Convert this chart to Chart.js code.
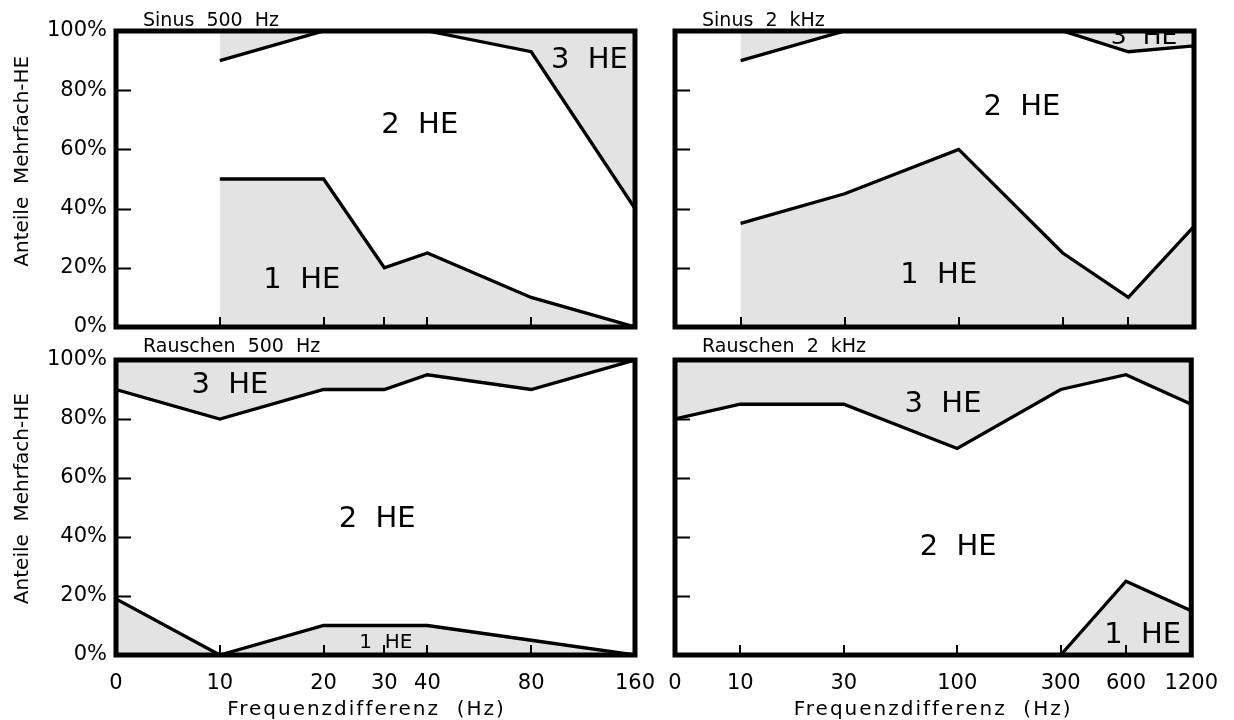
<!DOCTYPE html>
<html>
<head>
<meta charset="utf-8">
<script src="https://cdn.jsdelivr.net/npm/chart.js@4"></script>
<style>
  html, body { margin: 0; padding: 0; background: #fff; }
  #wrap { position: relative; width: 1234px; height: 720px; }
  #wrap canvas { position: absolute; left: 0; top: 0; }
</style>
</head>
<body>
<div id="wrap">
  <canvas id="sinus500" width="1234" height="720"></canvas>
  <canvas id="sinus2k" width="1234" height="720"></canvas>
  <canvas id="noise500" width="1234" height="720"></canvas>
  <canvas id="noise2k" width="1234" height="720"></canvas>
</div>
<script>
// frequency differences (Hz) on the x axis
const freq500 = [0, 10, 20, 30, 40, 80, 160];
const freq2k = [0, 10, 30, 100, 300, 600, 1200];
const yTicks = [0, 20, 40, 60, 80, 100];

// share of 1 HE, and 1 HE + 2 HE together (%); the rest up to 100 is 3 HE
const sinus500One = [null, 50, 50, 20, 25, 10, 0];
const sinus500OneTwo = [null, 90, 100, 100, 100, 93, 40];
const sinus2kOne = [null, 35, 45, 60, 25, 10, 34];
const sinus2kOneTwo = [null, 90, 100, 100, 100, 93, 95];
const noise500One = [19, 0, 10, 10, 10, 5, 0];
const noise500OneTwo = [90, 80, 90, 90, 95, 90, 100];
const noise2kOne = [0, 0, 0, 0, 0, 25, 15];
const noise2kOneTwo = [80, 85, 85, 70, 90, 95, 85];

const W = 1234, H = 720;
const FONT = '"DejaVu Sans", sans-serif';
const GRAY = '#e3e3e3';
// the "0" column sits one octave below 10 Hz on the log axis
const ZERO_AT = 5;
const xPos = f => (f === 0 ? ZERO_AT : f);

const panels = [
  {
    id: 'sinus500', title: 'Sinus  500  Hz', freqs: freq500, one: sinus500One, oneTwo: sinus500OneTwo,
    area: { left: 116, top: 31, right: 635, bottom: 327 }, titleGap: 5,
    yLabels: true, xLabels: false, yTitleAt: 56,
    notes: [
      { text: '3  HE', f: 118, v: 87.5, size: 29 },
      { text: '2  HE', f: 38, v: 65.5, size: 29 },
      { text: '1  HE', f: 17.3, v: 13.2, size: 29 },
    ],
  },
  {
    id: 'sinus2k', title: 'Sinus  2  kHz', freqs: freq2k, one: sinus2kOne, oneTwo: sinus2kOneTwo,
    area: { left: 675, top: 31, right: 1194, bottom: 327 }, titleGap: 5,
    yLabels: false, xLabels: false,
    notes: [
      { text: '3  HE', f: 708, v: 95.6, size: 25 },
      { text: '2  HE', f: 195, v: 71.6, size: 29 },
      { text: '1  HE', f: 81, v: 14.9, size: 29 },
    ],
  },
  {
    id: 'noise500', title: 'Rauschen  500  Hz', freqs: freq500, one: noise500One, oneTwo: noise500OneTwo,
    area: { left: 116, top: 360, right: 635, bottom: 655 }, titleGap: 8,
    yLabels: true, xLabels: true, yTitleAt: 53, xTitleShift: -9,
    notes: [
      { text: '3  HE', f: 10.7, v: 88.8, size: 29 },
      { text: '2  HE', f: 28.6, v: 43.4, size: 29 },
      { text: '1  HE', f: 30.3, v: 2.4, size: 20 },
    ],
  },
  {
    id: 'noise2k', title: 'Rauschen  2  kHz', freqs: freq2k, one: noise2kOne, oneTwo: noise2kOneTwo,
    area: { left: 675, top: 360, right: 1194, bottom: 655 }, titleGap: 8,
    yLabels: false, xLabels: true, xTitleShift: 0,
    notes: [
      { text: '3  HE', f: 86, v: 82.4, size: 29 },
      { text: '2  HE', f: 101, v: 33.9, size: 29 },
      { text: '1  HE', f: 716, v: 4.1, size: 29 },
    ],
  },
];

const points = (freqs, values) =>
  freqs.map((f, i) => ({ x: xPos(f), y: values[i] })).filter(p => p.y !== null);

// frame, inner tick marks, region labels and titles
const decor = {
  id: 'decor',
  afterDatasetsDraw(chart, args, opts) {
    const p = opts.panel;
    const { ctx, chartArea: a } = chart;
    const xs = chart.scales.x, ys = chart.scales.y;
    ctx.save();

    ctx.save();
    ctx.beginPath();
    ctx.rect(a.left, a.top, a.right - a.left, a.bottom - a.top);
    ctx.clip();
    ctx.fillStyle = '#000';
    ctx.textAlign = 'center';
    ctx.textBaseline = 'alphabetic';
    p.notes.forEach(n => {
      ctx.font = n.size + 'px ' + FONT;
      ctx.fillText(n.text, xs.getPixelForValue(n.f), ys.getPixelForValue(n.v));
    });
    ctx.restore();

    ctx.strokeStyle = '#000';
    ctx.lineWidth = 2;
    ctx.beginPath();
    yTicks.slice(1, -1).forEach(v => {
      const y = Math.round(ys.getPixelForValue(v)) + 0.5;
      ctx.moveTo(a.left, y);
      ctx.lineTo(a.left + 15, y);
    });
    p.freqs.slice(1, -1).forEach(f => {
      const x = Math.round(xs.getPixelForValue(xPos(f)));
      ctx.moveTo(x, a.bottom);
      ctx.lineTo(x, a.bottom - 10);
    });
    ctx.stroke();

    ctx.lineWidth = 5;
    ctx.lineJoin = 'miter';
    ctx.strokeRect(a.left, a.top, a.right - a.left, a.bottom - a.top);

    ctx.fillStyle = '#000';
    ctx.font = '19px ' + FONT;
    ctx.textAlign = 'left';
    ctx.fillText(p.title, a.left + 27, a.top - p.titleGap);

    if (p.xLabels) {
      ctx.save();
      ctx.font = '20px ' + FONT;
      ctx.letterSpacing = '2px';
      ctx.textAlign = 'center';
      ctx.fillText('Frequenzdifferenz  (Hz)', (a.left + a.right) / 2 + p.xTitleShift, 715);
      ctx.restore();
    }

    if (p.yTitleAt !== undefined) {
      ctx.translate(23, ys.getPixelForValue(p.yTitleAt));
      ctx.rotate(-Math.PI / 2);
      ctx.textAlign = 'center';
      ctx.textBaseline = 'middle';
      ctx.font = '20px ' + FONT;
      ctx.fillText('Anteile  Mehrfach-HE', 0, 0);
    }
    ctx.restore();
  },
};

panels.forEach(p => {
  const a = p.area;
  const line = {
    borderColor: '#000',
    borderWidth: 3.3,
    backgroundColor: GRAY,
    pointRadius: 0,
    tension: 0,
  };
  new Chart(document.getElementById(p.id), {
    type: 'line',
    data: {
      datasets: [
        { ...line, label: '1 HE', data: points(p.freqs, p.one), fill: 'origin' },
        { ...line, label: '1 HE + 2 HE', data: points(p.freqs, p.oneTwo), fill: 'end' },
      ],
    },
    options: {
      responsive: false,
      animation: false,
      devicePixelRatio: 1,
      layout: { padding: { left: 0, top: a.top, right: W - a.right, bottom: 0 } },
      plugins: {
        legend: { display: false },
        tooltip: { enabled: false },
        decor: { panel: p },
      },
      scales: {
        x: {
          type: 'logarithmic',
          min: ZERO_AT,
          max: p.freqs[p.freqs.length - 1],
          afterBuildTicks: s => { s.ticks = p.freqs.map(f => ({ value: xPos(f) })); },
          afterFit: s => { s.height = H - a.bottom; },
          grid: { display: false, drawTicks: false },
          border: { display: false },
          ticks: {
            display: p.xLabels,
            autoSkip: false,
            maxRotation: 0,
            padding: 16,
            color: '#000',
            font: { family: FONT, size: 21 },
            callback: (v, i) => String(p.freqs[i]),
          },
        },
        y: {
          min: 0,
          max: 100,
          afterBuildTicks: s => { s.ticks = yTicks.map(v => ({ value: v })); },
          afterFit: s => { s.width = a.left; },
          grid: { display: false, drawTicks: false },
          border: { display: false },
          ticks: {
            display: p.yLabels,
            padding: 9,
            color: '#000',
            font: { family: FONT, size: 21 },
            callback: v => v + '%',
          },
        },
      },
    },
    plugins: [decor],
  });
});
</script>
</body>
</html>
